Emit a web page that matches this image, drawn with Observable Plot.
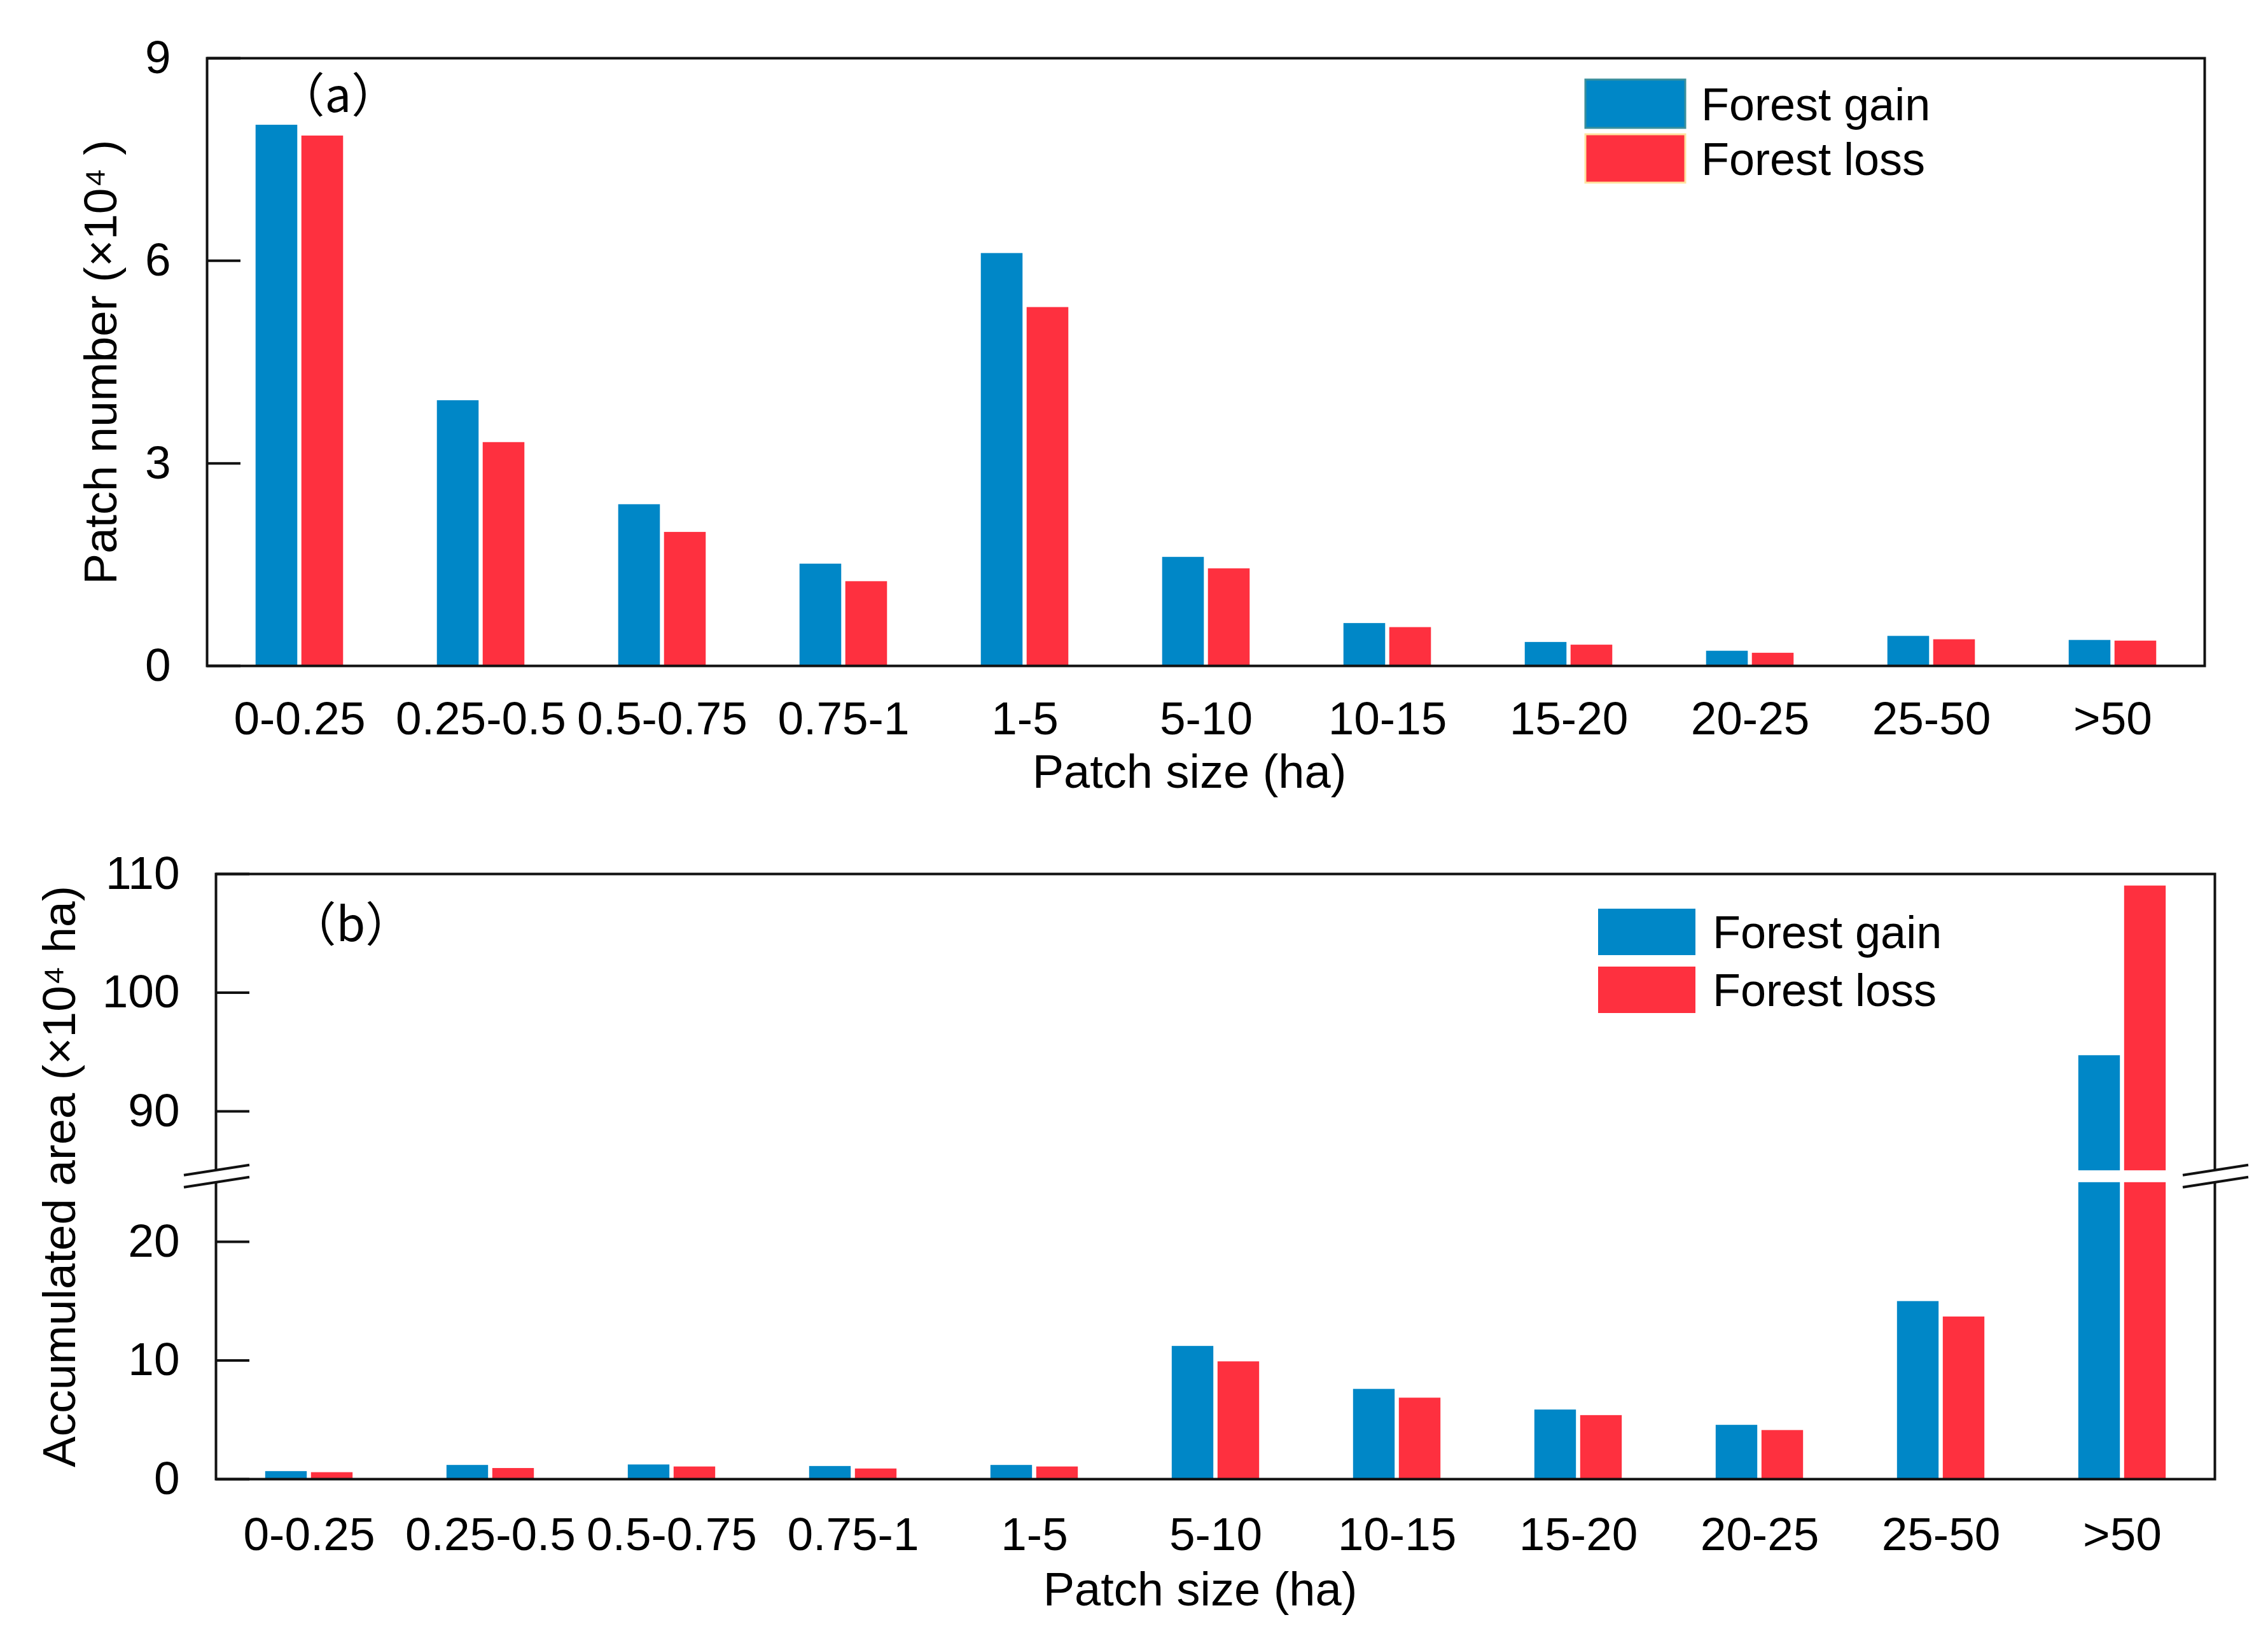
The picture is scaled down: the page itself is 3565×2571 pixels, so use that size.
<!DOCTYPE html>
<html><head><meta charset="utf-8">
<script src="https://cdn.jsdelivr.net/npm/d3@7"></script>
<script src="https://cdn.jsdelivr.net/npm/@observablehq/plot@0.6"></script>
<style>
html,body{margin:0;padding:0;background:#fff;}
#root{position:relative;width:3565px;height:2571px;overflow:hidden;background:#fff;}
#root svg{display:block;}
</style></head><body><div id="root"></div>
<script>
// ---------------- data ----------------
const categories = ["0-0.25","0.25-0.5","0.5-0.75","0.75-1","1-5","5-10","10-15","15-20","20-25","25-50",">50"];
const seriesNames = ["Forest gain","Forest loss"];
const seriesColors = ["#0087c7","#fe303f"];
// (a) Patch number (x10^4)
const patchNumberGain = [8.01, 3.93, 2.39, 1.51, 6.11, 1.61, 0.63, 0.35, 0.22, 0.44, 0.38];
const patchNumberLoss = [7.85, 3.31, 1.98, 1.25, 5.31, 1.44, 0.57, 0.31, 0.19, 0.39, 0.37];
// (b) Accumulated area (x10^4 ha)
const areaGain = [0.65, 1.17, 1.21, 1.08, 1.17, 11.2, 7.58, 5.84, 4.55, 14.98, 94.7];
const areaLoss = [0.56, 0.91, 1.04, 0.87, 1.04, 9.9, 6.84, 5.37, 4.11, 13.68, 109.0];
const yTicksA = [0, 3, 6, 9];
const yTicksB = [0, 10, 20, 90, 100, 110];
const yMaxA = 9, yMaxB = 110, breakLow = 25, breakHigh = 85, breakGap = 1;

// ---------------- helpers ----------------
const W = 3565;
const FONT = '"Liberation Sans", Arial, "Noto Sans CJK SC", sans-serif';
const CJK = '"Noto Sans CJK SC", "Liberation Sans", sans-serif';
const tickFont = 73, yTitleFont = 73, titleSize = 74, legendSize = 72;
const barW = 66, barGap = 3, tickLen = 53, lineW = 4;
// broken-axis mapping: values above the break are shifted down so the axis jumps 25 -> 85
const brk = v => v <= breakLow ? v
  : v >= breakHigh ? v - (breakHigh - breakLow) + breakGap
  : breakLow + breakGap * (v - breakLow) / (breakHigh - breakLow);

function rows(gain, loss){
  return categories.flatMap((c,i)=>[
    {category:c, series:seriesNames[0], value:gain[i]},
    {category:c, series:seriesNames[1], value:loss[i]}
  ]);
}
function barInsets(bw, s){
  return s === seriesNames[0]
    ? {insetLeft: bw/2 - barGap - barW, insetRight: bw/2 + barGap}
    : {insetLeft: bw/2 + barGap, insetRight: bw/2 - barGap - barW};
}
function addLegend(svg, x, yTop, sw, sh, gapY, textX, bordered){
  const g = d3.select(svg).append("g").attr("text-anchor", "start");
  seriesNames.forEach((s,i)=>{
    const y = yTop + i*(sh + gapY);
    g.append("rect").attr("x", x).attr("y", y).attr("width", sw).attr("height", sh)
      .attr("fill", seriesColors[i])
      .attr("stroke", bordered ? (i===0 ? "#3a8f9c" : "#ffe3a0") : "none")
      .attr("stroke-width", bordered ? 3 : 0);
    g.append("text").attr("x", textX).attr("y", y + sh/2 + 0.36*legendSize)
      .attr("text-anchor", "start")
      .attr("font-family", FONT).attr("font-size", legendSize).attr("fill","#000").text(s);
  });
}
const root = document.getElementById("root");

// ---------------- panel (a) ----------------
const A = {height:1290, ml:325, mr:100, mt:91, mb:244};
const bwA = (W - A.ml - A.mr)/categories.length;
const dataA = rows(patchNumberGain, patchNumberLoss);
const plotA = Plot.plot({
  width: W, height: A.height,
  marginLeft: A.ml, marginRight: A.mr, marginTop: A.mt, marginBottom: A.mb,
  style: {fontFamily: FONT, fontSize: tickFont + "px", background: "transparent", color: "#000", overflow: "visible"},
  x: {domain: categories, padding: 0},
  y: {domain: [0, yMaxA]},
  color: {domain: seriesNames, range: seriesColors},
  marks: [
    ...seriesNames.map(s => Plot.barY(dataA.filter(d=>d.series===s), {x:"category", y:"value", fill:"series", ...barInsets(bwA, s)})),
    Plot.tickY(yTicksA, {y: d=>d, stroke:"#111", strokeWidth: lineW, insetRight: (W - A.ml - A.mr) - tickLen}),
    Plot.frame({stroke:"#111", strokeWidth: lineW}),
    Plot.axisX({tickSize:0, tickPadding:56, fontSize: tickFont, label: null}),
    Plot.axisY({ticks: yTicksA, tickSize:0, tickPadding:57, fontSize: tickFont, label: null, tickFormat: d=>String(d)}),
    Plot.text(["Patch number (×10⁴ )"], {text: d=>d, frameAnchor:"left", textAnchor:"middle", lineAnchor:"middle", dx:-166, rotate:-90, fontSize: yTitleFont}),
    Plot.text(["Patch size (ha)"], {text: d=>d, frameAnchor:"bottom", textAnchor:"middle", lineAnchor:"middle", dx:-26, dy:168, fontSize: titleSize}),
    Plot.text(["（a）"], {text: d=>d, frameAnchor:"top-left", textAnchor:"start", lineAnchor:"middle", dx:111, dy:61, fontSize:74, fontFamily: CJK})
  ]
});
root.appendChild(plotA);
addLegend(plotA, 2492, 125, 157, 76, 10, 2674, true);

// ---------------- panel (b) ----------------
const B = {height: 2571 - 1290, ml:339, mr:84, mt:83, mb:247};
const bwB = (W - B.ml - B.mr)/categories.length;
const dataB = rows(areaGain, areaLoss);
const lowerB = dataB.map(d=>({...d, y1:0, y2: brk(Math.min(d.value, breakLow))}));
const upperB = dataB.filter(d=>d.value > breakHigh).map(d=>({...d, y1: brk(breakHigh), y2: brk(d.value)}));
const plotB = Plot.plot({
  width: W, height: B.height,
  marginLeft: B.ml, marginRight: B.mr, marginTop: B.mt, marginBottom: B.mb,
  style: {fontFamily: FONT, fontSize: tickFont + "px", background: "transparent", color: "#000", overflow: "visible"},
  x: {domain: categories, padding: 0},
  y: {domain: [0, brk(yMaxB)]},
  color: {domain: seriesNames, range: seriesColors},
  marks: [
    ...seriesNames.map(s => Plot.barY(lowerB.filter(d=>d.series===s), {x:"category", y1:"y1", y2:"y2", fill:"series", ...barInsets(bwB, s)})),
    ...seriesNames.map(s => Plot.barY(upperB.filter(d=>d.series===s), {x:"category", y1:"y1", y2:"y2", fill:"series", ...barInsets(bwB, s)})),
    Plot.tickY(yTicksB, {y: d=>brk(d), stroke:"#111", strokeWidth: lineW, insetRight: (W - B.ml - B.mr) - tickLen}),
    Plot.frame({stroke:"#111", strokeWidth: lineW}),
    Plot.axisX({tickSize:0, tickPadding:60, fontSize: tickFont, label: null}),
    Plot.axisY(yTicksB, {y: d=>brk(d), text: d=>String(d), tickSize:0, tickPadding:57, fontSize: tickFont, label: null}),
    Plot.text(["Accumulated area (×10⁴ ha)"], {text: d=>d, frameAnchor:"left", textAnchor:"middle", lineAnchor:"middle", dx:-245, rotate:-90, fontSize: yTitleFont}),
    Plot.text(["Patch size (ha)"], {text: d=>d, frameAnchor:"bottom", textAnchor:"middle", lineAnchor:"middle", dx:-24, dy:175, fontSize: titleSize}),
    Plot.text(["（b）"], {text: d=>d, frameAnchor:"top-left", textAnchor:"start", lineAnchor:"middle", dx:115, dy:82, fontSize:74, fontFamily: CJK})
  ]
});
root.appendChild(plotB);
addLegend(plotB, 2512, 1428 - 1290, 153, 73, 18, 2692, false);

// axis break marks drawn at the scale's break positions
(function(){
  const ys = plotB.scale("y");
  const mid = (ys.apply(brk(breakLow)) + ys.apply(brk(breakHigh)))/2;
  const slope = -16/103, off = 9.5;
  const g = d3.select(plotB).append("g");
  [B.ml, W - B.mr].forEach(ax=>{
    const yAt = (o, x) => mid + o + slope*(x - ax);
    g.append("path")
      .attr("d", `M${ax-8},${yAt(-off,ax-8)}L${ax+8},${yAt(-off,ax+8)}L${ax+8},${yAt(off,ax+8)}L${ax-8},${yAt(off,ax-8)}Z`)
      .attr("fill", "#fff");
    [-off, off].forEach(o=>{
      g.append("line").attr("x1", ax-50).attr("y1", yAt(o, ax-50)).attr("x2", ax+53).attr("y2", yAt(o, ax+53))
        .attr("stroke", "#111").attr("stroke-width", lineW);
    });
  });
})();
</script></body></html>
